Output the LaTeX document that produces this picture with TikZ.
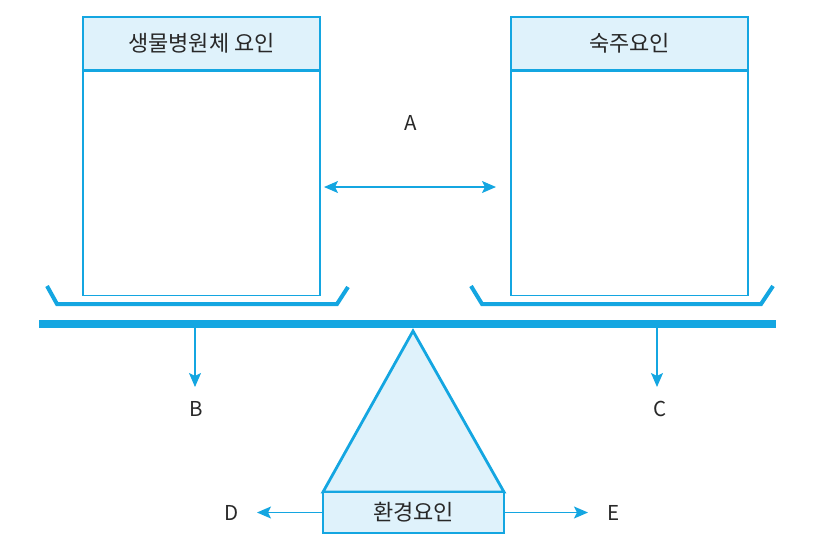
\documentclass[tikz,border=0pt]{standalone}
\usepackage{fontspec}
\setmainfont{Noto Sans CJK KR}
\usetikzlibrary{arrows.meta}
\definecolor{cy}{RGB}{20,166,225}
\definecolor{lb}{RGB}{223,242,251}
\definecolor{tx}{RGB}{40,40,40}
\tikzset{
  hdr/.style={draw=cy, line width=1.4pt, fill=lb, minimum width=237pt, minimum height=53pt, inner sep=0pt, font=\fontsize{22}{26}\selectfont, text=tx},
  bodybox/.style={draw=cy, line width=1.4pt, fill=white, minimum width=237pt, minimum height=224pt, inner sep=0pt},
  lbl/.style={font=\fontsize{20.5}{24}\selectfont, text=tx, inner sep=0pt},
  arr/.style={draw=cy, line width=1.4pt, -{Stealth[length=14pt,width=12pt,inset=3pt]}},
  darr/.style={draw=cy, line width=1.4pt, {Stealth[length=14pt,width=12pt,inset=3pt]}-{Stealth[length=14pt,width=12pt,inset=3pt]}},
  pan/.style={draw=cy, line width=4pt, line join=miter},
}
\begin{document}
\begin{tikzpicture}[x=1pt,y=-1pt]
\useasboundingbox (0,0) rectangle (818,555);
% boxes
\node[hdr] (lh) at (201.5,43.5) {생물병원체 요인};
\node[bodybox, anchor=north] (lbody) at (lh.south) {};
\node[hdr] (rh) at (629.5,43.5) {숙주요인};
\node[bodybox, anchor=north] (rbody) at (rh.south) {};
% pans
\draw[pan] (47,286) -- (57,304) -- (337,304) -- (348,287);
\draw[pan] (471,286) -- (482,304) -- (761,304) -- (773,286);
% beam
\draw[draw=cy, line width=8pt] (39,324) -- (776,324);
% fulcrum
\draw[draw=cy, line width=2.8pt, fill=lb, line join=miter] (413,331) -- (504,492) -- (323,492) -- cycle;
\node[draw=cy, line width=2.8pt, fill=lb, minimum width=181pt, minimum height=41pt, inner sep=0pt, font=\fontsize{22}{26}\selectfont, text=tx] (env) at (413.5,512.5) {환경요인};
% labels
\node[lbl] (A) at (411,123) {A};
\node[lbl] (B) at (196,409) {B};
\node[lbl] (C) at (660,409) {C};
\node[lbl] (D) at (232,513) {D};
\node[lbl] (E) at (614,513) {E};
% arrows
\coordinate (a1) at (324,187);
\coordinate (a2) at (496,187);
\draw[darr] (a1) -- (a2);
\coordinate (b0) at (195,328);
\coordinate (b1) at (195,387);
\draw[arr] (b0) -- (b1);
\coordinate (c0) at (657,328);
\coordinate (c1) at (657,387);
\draw[arr] (c0) -- (c1);
\coordinate (d1) at (257,512.5);
\draw[arr] (env.west) -- (d1);
\coordinate (e1) at (588,512.5);
\draw[arr] (env.east) -- (e1);
\end{tikzpicture}
\end{document}
